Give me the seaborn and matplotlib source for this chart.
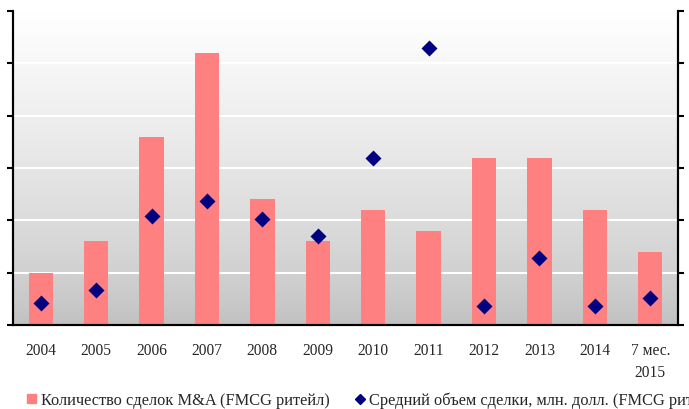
import numpy as np
import matplotlib
matplotlib.use("Agg")
import matplotlib.pyplot as plt
import matplotlib.patches as mpatches
import matplotlib.lines as mlines
from matplotlib.colors import LinearSegmentedColormap
import seaborn as sns
import pandas as pd

# данные
years = ["2004", "2005", "2006", "2007", "2008", "2009", "2010",
         "2011", "2012", "2013", "2014", "7 мес.\n2015"]
deals_count = [5, 8, 18, 26, 12, 8, 11, 9, 16, 16, 11, 7]
avg_deal_size = [21, 33, 104, 118, 101, 85, 160, 265, 18, 64, 18, 26]

label_count = "Количество сделок M&A (FMCG ритейл)"
label_size = "Средний объем сделки, млн. долл. (FMCG ритейл)"

COLOR_BAR = "#FF8080"
COLOR_DOT = "#000080"

sns.set_style("white")
plt.rcParams["font.family"] = ["Liberation Serif", "DejaVu Serif"]

df = pd.DataFrame({"year": years, "count": deals_count, "size": avg_deal_size})

fig = plt.figure(figsize=(6.89, 4.10), dpi=100)
rect = [13 / 689, 1 - 326 / 410, 665 / 689, 314 / 410]

# фон с градиентом (белый сверху -> серый снизу)
bg = fig.add_axes(rect, zorder=0)
cmap = LinearSegmentedColormap.from_list("bg", ["#C0C0C0", "#FFFFFF"])
grad = np.linspace(0, 1, 256) ** 0.75
bg.imshow(grad[::-1, None], aspect="auto", cmap=cmap, vmin=0, vmax=1,
          extent=[0, 1, 0, 1])
bg.axis("off")

ax = fig.add_axes(rect, zorder=1)
ax.set_facecolor("none")
sns.barplot(data=df, x="year", y="count", color=COLOR_BAR, saturation=1,
            width=0.44, edgecolor="none", ax=ax, zorder=2)
ax.yaxis.grid(True, color="white", linewidth=1.5, zorder=1)
ax.set_axisbelow(True)

ax2 = ax.twinx()
sns.pointplot(data=df, x="year", y="size", color=COLOR_DOT, marker="D",
              linestyle="none", markersize=6.5, errorbar=None, ax=ax2)

ax.set_xlim(-0.5, len(years) - 0.5)
ax.set_xticks(np.arange(-0.5, len(years), 1))
ax.set_xticklabels([])
ax.set_xticks(np.arange(len(years)), minor=True)
ax.set_xticklabels(years, minor=True, fontsize=11.2, linespacing=1.5)
ax.tick_params(axis="x", which="minor", length=0, pad=12)
ax.tick_params(axis="x", which="major", direction="out", length=5, width=1.5,
               color="black")

ax.set_ylim(0, 30)
ax.set_yticks(range(0, 31, 5))
ax.set_yticklabels([])
ax.tick_params(axis="y", direction="out", length=4, width=1.5, color="black")
ax2.set_ylim(0, 300)
ax2.set_yticks(range(0, 301, 50))
ax2.set_yticklabels([])
ax2.tick_params(axis="y", direction="out", length=4, width=1.5, color="black")

ax.set_xlabel("")
ax.set_ylabel("")
ax2.set_ylabel("")
for a in (ax, ax2):
    a.spines["top"].set_visible(False)
    for side in ("left", "right", "bottom"):
        a.spines[side].set_color("black")
        a.spines[side].set_linewidth(1.5)

handles = [
    mpatches.Patch(color=COLOR_BAR),
    mlines.Line2D([], [], marker="D", color=COLOR_DOT, linestyle="none",
                  markersize=5.5),
]
fig.legend(handles, [label_count, label_size], ncol=2, loc="center left",
           bbox_to_anchor=(20.5 / 689, 9 / 410), borderaxespad=0,
           frameon=False, fontsize=11.8, handlelength=0.55,
           handleheight=0.55, handletextpad=0.3, columnspacing=1.55)

fig.savefig("out.png", dpi=100)
